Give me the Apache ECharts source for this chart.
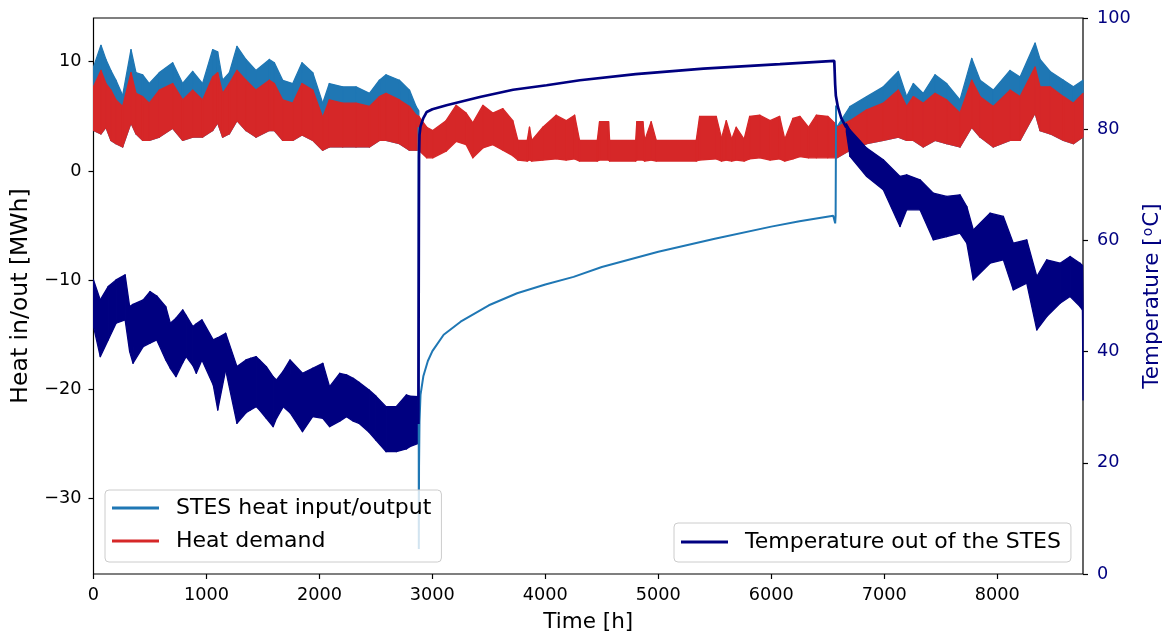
<!DOCTYPE html>
<html>
<head>
<meta charset="utf-8">
<script src="https://cdn.jsdelivr.net/npm/echarts@6/dist/echarts.min.js"></script>
<style>
html,body{margin:0;padding:0;background:#fff;}
#chart{width:1164px;height:631px;}
</style>
</head>
<body>
<div id="chart"></div>
<script>
// ---------- DATA ----------
const xTicks = [0, 1000, 2000, 3000, 4000, 5000, 6000, 7000, 8000];
const leftTicks = [-30, -20, -10, 0, 10];

// Phase 1 (0-2880 h): envelopes of the noisy hourly series [MWh]
const hours1   = [0, 66, 110, 154, 199, 258, 332, 376, 435, 494, 583, 701, 789, 878, 966, 1055, 1099, 1143, 1203, 1270, 1350, 1438, 1557, 1601, 1675, 1764, 1846, 1941, 2029, 2088, 2206, 2324, 2443, 2531, 2590, 2708, 2797, 2856, 2880];
const blueTop1 = [9.5, 11.5, 10.2, 9.2, 8.3, 6.9, 11.1, 9.0, 8.8, 8.0, 9.0, 9.9, 8.0, 9.1, 8.0, 11.1, 10.9, 8.3, 9.0, 11.4, 10.2, 9.2, 10.2, 9.9, 8.3, 8.0, 9.9, 9.0, 6.2, 8.0, 7.7, 7.7, 7.1, 8.3, 8.8, 8.3, 7.4, 5.9, 5.5];
const redTop1  = [7.7, 9.2, 8.0, 7.4, 6.5, 5.9, 9.0, 7.1, 6.8, 6.2, 7.4, 8.0, 6.5, 7.4, 6.5, 8.6, 9.0, 7.1, 8.0, 9.2, 8.3, 7.4, 8.3, 8.0, 6.5, 6.2, 8.0, 7.4, 4.9, 6.5, 6.2, 6.2, 5.9, 6.8, 7.1, 6.5, 5.9, 5.1, 5.0];
const redBot1  = [3.7, 3.4, 4.0, 2.8, 2.5, 2.2, 4.4, 3.4, 2.8, 2.8, 3.1, 3.9, 2.8, 3.1, 3.1, 3.7, 4.4, 3.1, 3.4, 4.6, 3.7, 3.1, 3.7, 3.7, 2.8, 2.8, 3.3, 2.8, 1.9, 2.2, 2.2, 2.2, 2.2, 2.8, 2.8, 2.5, 1.9, 1.9, 1.9];

// Phase 2 (2880-6570 h): heat demand envelope
const hoursMid  = [2950, 3003, 3121, 3210, 3299, 3358, 3447, 3535, 3624, 3712, 3757, 3840, 3860, 3880, 3978, 4096, 4184, 4259, 4303, 4460, 4480, 4560, 4569, 4800, 4810, 4864, 4880, 4937, 4982, 5336, 5366, 5513, 5560, 5602, 5650, 5690, 5760, 5809, 5900, 5990, 6074, 6120, 6192, 6254, 6330, 6400, 6500, 6570];
const redTopMid = [4.0, 3.7, 4.6, 6.0, 5.3, 4.4, 6.0, 5.3, 5.7, 4.6, 2.8, 2.8, 4.0, 2.8, 4.0, 5.1, 4.6, 5.1, 2.8, 2.8, 4.5, 4.5, 2.8, 2.8, 4.5, 4.5, 2.8, 4.5, 2.8, 2.8, 5.0, 5.0, 3.0, 4.6, 2.9, 4.0, 2.9, 5.0, 5.1, 4.6, 5.0, 2.9, 4.8, 5.0, 4.0, 5.1, 5.0, 4.3];
const redBotMid = [1.2, 1.2, 1.8, 2.7, 2.4, 1.2, 2.1, 2.4, 1.9, 1.4, 1.0, 0.9, 1.0, 0.9, 1.0, 1.1, 1.0, 1.1, 0.9, 0.9, 1.0, 1.0, 0.9, 0.9, 1.0, 1.0, 0.9, 1.0, 0.9, 0.9, 1.0, 1.1, 0.9, 1.0, 0.9, 1.0, 0.9, 1.1, 1.2, 1.0, 1.1, 0.9, 1.1, 1.3, 1.2, 1.2, 1.2, 1.2];

// Phase 2: STES heat input (smooth curve) [MWh]
const blueCurveHours = [2878, 2880, 2882, 2886, 2895, 2920, 2960, 3000, 3100, 3250, 3500, 3750, 4000, 4250, 4500, 5000, 5500, 6000, 6250, 6549, 6562, 6566, 6570, 6574];
const blueCurveVals  = [4.0, -34.6, -27.0, -23.0, -20.5, -18.8, -17.4, -16.5, -15.0, -13.8, -12.3, -11.2, -10.4, -9.7, -8.8, -7.4, -6.2, -5.1, -4.6, -4.1, -4.1, -4.8, -4.1, 6.0];

// Phase 3 (6570-8760 h): envelopes [MWh]
const hours3   = [6579, 6697, 6845, 6992, 7125, 7199, 7258, 7346, 7450, 7553, 7671, 7775, 7849, 7966, 8114, 8203, 8336, 8380, 8469, 8587, 8675, 8760];
const blueTop3 = [4.0, 5.9, 6.8, 7.7, 9.1, 6.8, 8.0, 7.1, 8.8, 8.0, 6.5, 10.3, 8.3, 7.4, 9.2, 8.6, 11.7, 10.2, 9.1, 8.3, 7.7, 8.3];
const redTop3  = [4.0, 4.6, 5.6, 6.2, 7.4, 5.9, 6.8, 6.2, 7.1, 6.5, 5.3, 8.3, 6.8, 5.9, 7.4, 6.8, 9.5, 7.7, 7.7, 6.8, 6.2, 7.1];
const redBot3  = [1.2, 1.9, 2.5, 2.8, 3.1, 2.8, 2.8, 2.2, 2.8, 2.5, 2.2, 4.0, 3.1, 2.2, 2.8, 2.8, 5.3, 3.7, 3.4, 2.8, 2.5, 3.1];

// Temperature out of the STES [°C]
const tempHours1 = [0, 60, 130, 200, 280, 320, 350, 440, 500, 560, 640, 680, 730, 790, 820, 880, 910, 960, 1060, 1100, 1170, 1270, 1350, 1390, 1440, 1470, 1530, 1590, 1620, 1680, 1740, 1850, 1940, 2030, 2090, 2180, 2240, 2300, 2350, 2440, 2500, 2590, 2680, 2770, 2800, 2876];
const tempTop1   = [52.9, 49.3, 51.7, 52.9, 53.8, 48.1, 48.5, 49.3, 50.8, 50.0, 48.1, 45.1, 46.0, 47.5, 46.5, 44.5, 45.0, 45.7, 42.1, 42.5, 43.3, 37.3, 38.5, 38.8, 39.1, 38.5, 37.3, 35.5, 34.9, 36.5, 38.5, 36.1, 37.0, 37.9, 33.7, 36.1, 35.8, 35.2, 34.5, 33.1, 32.0, 30.1, 30.1, 32.2, 32.0, 31.9];
const tempBot1   = [44.5, 39.1, 42.1, 45.1, 45.7, 40.0, 37.9, 40.9, 41.5, 42.1, 38.5, 37.0, 35.5, 38.0, 39.1, 37.5, 36.1, 38.5, 34.0, 29.5, 36.7, 27.1, 29.0, 29.5, 30.1, 29.5, 28.0, 26.5, 28.0, 30.1, 29.0, 25.6, 28.3, 28.0, 26.5, 27.5, 28.3, 27.5, 27.1, 25.5, 24.1, 22.0, 22.0, 22.5, 22.9, 23.5];

const tempLineHours = [2876, 2880, 2882, 2886, 2895, 2920, 2950, 3000, 3125, 3420, 3715, 4011, 4306, 4800, 5400, 6077, 6558, 6566, 6572, 6590, 6620, 6665];
const tempLineVals  = [27.0, 60.0, 75.0, 79.0, 80.5, 82.0, 83.1, 83.6, 84.3, 85.8, 87.1, 87.9, 88.8, 89.9, 90.9, 91.7, 92.3, 88.0, 86.0, 84.0, 82.0, 80.3];

const tempHours3 = [6665, 6697, 6845, 6992, 7140, 7199, 7317, 7435, 7553, 7671, 7731, 7789, 7937, 8055, 8143, 8262, 8351, 8439, 8557, 8646, 8734, 8755, 8760];
const tempTop3   = [81.0, 79.9, 76.6, 74.5, 71.5, 71.8, 70.9, 68.5, 67.9, 68.2, 66.1, 61.9, 64.9, 64.3, 59.5, 60.1, 53.5, 56.5, 55.9, 57.1, 55.9, 55.5, 48.0];
const tempBot3   = [79.5, 75.1, 71.5, 69.1, 62.5, 65.5, 65.5, 60.1, 60.7, 61.3, 59.5, 52.9, 55.9, 56.5, 51.1, 52.3, 43.9, 46.3, 48.7, 49.9, 48.1, 47.5, 31.3];

// ---------- BUILD ----------
const C_BLUE = '#1f77b4', C_RED = '#d62728', C_NAVY = '#000080';
const FONT = 'DejaVu Sans';
const fmtTick = v => String(v).replace('-', '\u2212');

function pairs(xs, ys) { return xs.map((x, i) => [x, ys[i]]); }

// Band between lower and upper envelopes, drawn as quads through the axis scales
function band(name, xs, lo, hi, color, yAxisIndex) {
  const segs = [];
  for (let i = 0; i < xs.length - 1; i++) {
    segs.push([xs[i], lo[i], hi[i], xs[i + 1], lo[i + 1], hi[i + 1]]);
  }
  return {
    name, type: 'custom', yAxisIndex, color, silent: true, animation: false, clip: true,
    encode: { x: [0, 3], y: [1, 2, 4, 5] },
    data: segs,
    renderItem: function (params, api) {
      const a = api.coord([api.value(0), api.value(1)]);
      const b = api.coord([api.value(0), api.value(2)]);
      const c = api.coord([api.value(3), api.value(5)]);
      const d = api.coord([api.value(3), api.value(4)]);
      return {
        type: 'polygon',
        shape: { points: [a, b, c, d] },
        style: { fill: color, stroke: color, lineWidth: 1.3, lineJoin: 'round' }
      };
    }
  };
}
function line(name, xs, ys, color, width, yAxisIndex) {
  return {
    name, type: 'line', yAxisIndex, data: pairs(xs, ys), symbol: 'none', showSymbol: false,
    color, lineStyle: { width, color }, silent: true, animation: false
  };
}

const redHours = hours1.concat(hoursMid, hours3);
const redTop = redTop1.concat(redTopMid, redTop3);
const redBot = redBot1.concat(redBotMid, redBot3);

const series = [
  line('STES heat input/output', blueCurveHours, blueCurveVals, C_BLUE, 2, 0),
  band('STES heat input/output', hours1, redBot1, blueTop1, C_BLUE, 0),
  band('STES heat input/output', hours3, redBot3, blueTop3, C_BLUE, 0),
  band('Heat demand', redHours, redBot, redTop, C_RED, 0),
  band('Temperature out of the STES', tempHours1, tempBot1, tempTop1, C_NAVY, 1),
  line('Temperature out of the STES', tempLineHours, tempLineVals, C_NAVY, 2.7, 1),
  band('Temperature out of the STES', tempHours3, tempBot3, tempTop3, C_NAVY, 1)
];

const legendCommon = {
  orient: 'vertical', icon: 'rect', itemWidth: 47, itemHeight: 3,
  backgroundColor: 'rgba(255,255,255,0.8)', borderColor: '#cccccc', borderWidth: 1, borderRadius: 4,
  textStyle: { fontFamily: FONT, fontSize: 22, color: '#000', lineHeight: 24, padding: [0, 0, 0, 12] },
  selectedMode: false
};

const chart = echarts.init(document.getElementById('chart'), null, { renderer: 'canvas' });
chart.setOption({
  animation: false,
  backgroundColor: '#fff',
  grid: {
    left: 93.5, right: 81, top: 18, bottom: 57, show: true,
    borderColor: '#000', borderWidth: 1.2, backgroundColor: 'transparent',
    outerBoundsMode: 'none', containLabel: false
  },
  legend: [
    Object.assign({}, legendCommon, {
      data: [{ name: 'STES heat input/output', itemStyle: { color: C_BLUE } }, { name: 'Heat demand', itemStyle: { color: C_RED } }],
      left: 105, top: 490, itemGap: 9, padding: [6, 10, 9, 7]
    }),
    Object.assign({}, legendCommon, {
      data: [{ name: 'Temperature out of the STES', itemStyle: { color: C_NAVY } }],
      left: 674, top: 523, itemGap: 9, padding: [7, 10, 8, 7]
    })
  ],
  xAxis: {
    type: 'value', min: 0, max: 8760,
    name: 'Time [h]', nameLocation: 'middle', nameGap: 37,
    nameTextStyle: { fontFamily: FONT, fontSize: 21.5, color: '#000' },
    axisLine: { show: false, onZero: false },
    axisTick: { show: true, customValues: xTicks, length: 5, lineStyle: { color: '#000', width: 1.2 } },
    axisLabel: { customValues: xTicks, fontFamily: FONT, fontSize: 17.7, color: '#000', margin: 12, formatter: fmtTick },
    splitLine: { show: false }
  },
  yAxis: [
    {
      type: 'value', min: -36.9, max: 14.0, position: 'left',
      name: 'Heat in/out [MWh]', nameLocation: 'middle', nameGap: 56, nameRotate: 90,
      nameTextStyle: { fontFamily: FONT, fontSize: 23.5, color: '#000' },
      axisLine: { show: false, onZero: false },
      axisTick: { show: true, customValues: leftTicks, length: 5, lineStyle: { color: '#000', width: 1.2 } },
      axisLabel: { customValues: leftTicks, fontFamily: FONT, fontSize: 17.7, color: '#000', margin: 12, formatter: fmtTick },
      splitLine: { show: false }
    },
    {
      type: 'value', min: 0, max: 100, interval: 20, position: 'right',
      name: 'Temperature [{sup|o}C]', nameLocation: 'middle', nameGap: 56, nameRotate: 90,
      nameTextStyle: {
        fontFamily: FONT, fontSize: 21.5, color: C_NAVY,
        rich: { sup: { fontFamily: FONT, fontSize: 14, color: C_NAVY, verticalAlign: 'top', padding: [0, 1, 0, 1] } }
      },
      axisLine: { show: false, onZero: false },
      axisTick: { show: true, length: 5, lineStyle: { color: '#000', width: 1.2 } },
      axisLabel: { fontFamily: FONT, fontSize: 17.7, color: C_NAVY, margin: 14 },
      splitLine: { show: false }
    }
  ],
  series
});
</script>
</body>
</html>
